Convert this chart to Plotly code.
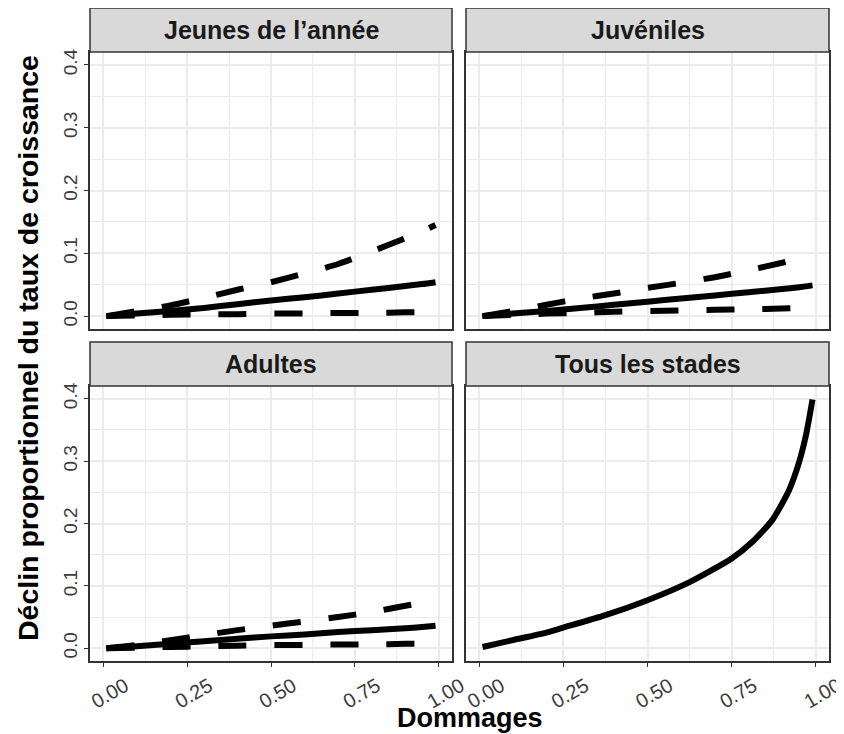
import plotly.graph_objects as go

# ---------------- data ----------------
panels = ["Jeunes de l’année", "Juvéniles", "Adultes", "Tous les stades"]

dommages = [0.01, 0.1, 0.2, 0.3, 0.4, 0.5, 0.6, 0.7, 0.8, 0.9, 0.95, 0.99]

jeunes_moy = [0.0, 0.004, 0.008, 0.013, 0.019, 0.025, 0.030, 0.036, 0.042, 0.048, 0.051, 0.054]
jeunes_sup = [0.0, 0.008, 0.017, 0.029, 0.042, 0.054, 0.068, 0.083, 0.103, 0.124, 0.135, 0.145]
jeunes_inf = [0.0, 0.001, 0.002, 0.003, 0.003, 0.004, 0.004, 0.005, 0.005, 0.006, 0.006, 0.007]

juv_moy = [0.0, 0.004, 0.008, 0.013, 0.018, 0.023, 0.028, 0.033, 0.038, 0.043, 0.046, 0.049]
juv_sup = [0.0, 0.008, 0.018, 0.028, 0.036, 0.045, 0.053, 0.062, 0.073, 0.085, 0.092, 0.098]
juv_inf = [0.0, 0.002, 0.004, 0.005, 0.007, 0.008, 0.009, 0.010, 0.011, 0.012, 0.013, 0.013]

adu_moy = [0.0, 0.003, 0.007, 0.011, 0.015, 0.019, 0.022, 0.026, 0.029, 0.032, 0.034, 0.036]
adu_sup = [0.0, 0.005, 0.013, 0.021, 0.029, 0.036, 0.043, 0.050, 0.058, 0.068, 0.073, 0.078]
adu_inf = [0.0, 0.001, 0.002, 0.003, 0.004, 0.005, 0.005, 0.006, 0.006, 0.007, 0.007, 0.008]

dommages_tous = [0.01, 0.1, 0.2, 0.25, 0.375, 0.5, 0.625, 0.75, 0.81, 0.87, 0.92, 0.95, 0.97, 0.98, 0.99]
tous_moy = [0.002, 0.013, 0.025, 0.033, 0.053, 0.077, 0.106, 0.144, 0.170, 0.205, 0.253, 0.298,
            0.340, 0.368, 0.399]

x_ticks = [0.0, 0.25, 0.5, 0.75, 1.0]
y_ticks = [0.0, 0.1, 0.2, 0.3, 0.4]

x_title = "Dommages"
y_title = "Déclin proportionnel du taux de croissance"

# ---------------- layout geometry (pixels of the 844x734 window) ----------------
OFF = 8                      # default page margin of the html body
W, H = 844 - OFF, 734 - OFF  # figure size so that it fits the window exactly
col_px = [(90, 452), (466, 829)]
row_plot_px = [(52, 329), (386, 661)]
row_strip_px = [(8, 52), (342, 386)]

FAM = "Liberation Sans, Arial, sans-serif"


def fx(p):
    return (p - OFF) / W


def fy(p):
    return 1 - (p - OFF) / H


def px_x(a, b):
    return [fx(a), fx(b)]


def px_y(top, bottom):
    return [fy(bottom), fy(top)]


fig = go.Figure()

solid = dict(color="black", width=6, shape="spline", smoothing=0.6)
dashed = dict(color="black", width=6, dash="28px,28px", shape="spline", smoothing=0.6)

series = [
    [(dommages, jeunes_moy, solid), (dommages, jeunes_sup, dashed), (dommages, jeunes_inf, dashed)],
    [(dommages, juv_moy, solid), (dommages, juv_sup, dashed), (dommages, juv_inf, dashed)],
    [(dommages, adu_moy, solid), (dommages, adu_sup, dashed), (dommages, adu_inf, dashed)],
    [(dommages_tous, tous_moy, solid)],
]

GRID = "#EBEBEB"
BORDER = "#333333"
TICKCOL = "#3C3C3C"

for i, name in enumerate(panels):
    r, c = divmod(i, 2)
    k = "" if i == 0 else str(i + 1)
    for (xs, ys, ln) in series[i]:
        fig.add_trace(go.Scatter(x=xs, y=ys, mode="lines", line=ln,
                                 xaxis="x" + k, yaxis="y" + k, showlegend=False,
                                 hoverinfo="skip"))
    bottom = r == 1
    left = c == 0
    fig.update_layout(**{
        "xaxis" + k: dict(
            domain=px_x(*col_px[c]), anchor="y" + k, range=[-0.039, 1.039],
            tickmode="array", tickvals=x_ticks, ticktext=[f"{v:.2f}" for v in x_ticks],
            showticklabels=bottom, ticks="outside" if bottom else "", ticklen=4,
            tickwidth=1.2, tickcolor=BORDER, tickangle=-30, ticklabelshift=22,
            ticklabeloverflow="allow",
            tickfont=dict(family=FAM, size=20, color=TICKCOL),
            showgrid=True, gridcolor=GRID, gridwidth=1.6,
            minor=dict(tickmode="array", tickvals=[0.125, 0.375, 0.625, 0.875],
                       showgrid=True, gridcolor=GRID, gridwidth=0.9, ticks=""),
            showline=True, linecolor=BORDER, linewidth=1.5, mirror=True,
            zeroline=False, fixedrange=True, automargin=False,
        ),
        "yaxis" + k: dict(
            domain=px_y(*row_plot_px[r]), anchor="x" + k, range=[-0.0205, 0.4205],
            tickmode="array", tickvals=y_ticks, ticktext=[f"{v:.1f}" for v in y_ticks],
            showticklabels=left, ticks="outside" if left else "", ticklen=4,
            tickwidth=1.2, tickcolor=BORDER, tickangle=-90,
            ticklabeloverflow="allow",
            tickfont=dict(family=FAM, size=19, color=TICKCOL),
            showgrid=True, gridcolor=GRID, gridwidth=1.6,
            minor=dict(tickmode="array", tickvals=[0.05, 0.15, 0.25, 0.35],
                       showgrid=True, gridcolor=GRID, gridwidth=0.9, ticks=""),
            showline=True, linecolor=BORDER, linewidth=1.5, mirror=True,
            zeroline=False, fixedrange=True, automargin=False,
        ),
    })
    # strip
    sx = px_x(*col_px[c])
    sy = px_y(*row_strip_px[r])
    fig.add_shape(type="rect", xref="paper", yref="paper",
                  x0=sx[0], x1=sx[1], y0=sy[0], y1=sy[1],
                  fillcolor="#D9D9D9", line=dict(color=BORDER, width=1.5), layer="above")
    fig.add_annotation(text=f"<b>{name}</b>", xref="paper", yref="paper",
                       x=(sx[0] + sx[1]) / 2, y=(sy[0] + sy[1]) / 2,
                       showarrow=False, xanchor="center", yanchor="middle",
                       font=dict(family=FAM, size=25, color="#1A1A1A"))

fig.add_annotation(text=f"<b>{x_title}</b>", xref="paper", yref="paper",
                   x=fx(470), y=fy(701), showarrow=False,
                   xanchor="center", yanchor="top",
                   font=dict(family=FAM, size=27, color="black"))
fig.add_annotation(text=f"<b>{y_title}</b>", xref="paper", yref="paper",
                   x=fx(28), y=fy(348), showarrow=False, textangle=-90,
                   xanchor="center", yanchor="middle",
                   font=dict(family=FAM, size=28.5, color="black"))

fig.update_layout(
    width=W, height=H,
    margin=dict(l=0, r=0, t=0, b=0),
    paper_bgcolor="white", plot_bgcolor="white",
    font=dict(family=FAM, size=18, color=TICKCOL),
    showlegend=False,
)

fig.write_html("out.html")
